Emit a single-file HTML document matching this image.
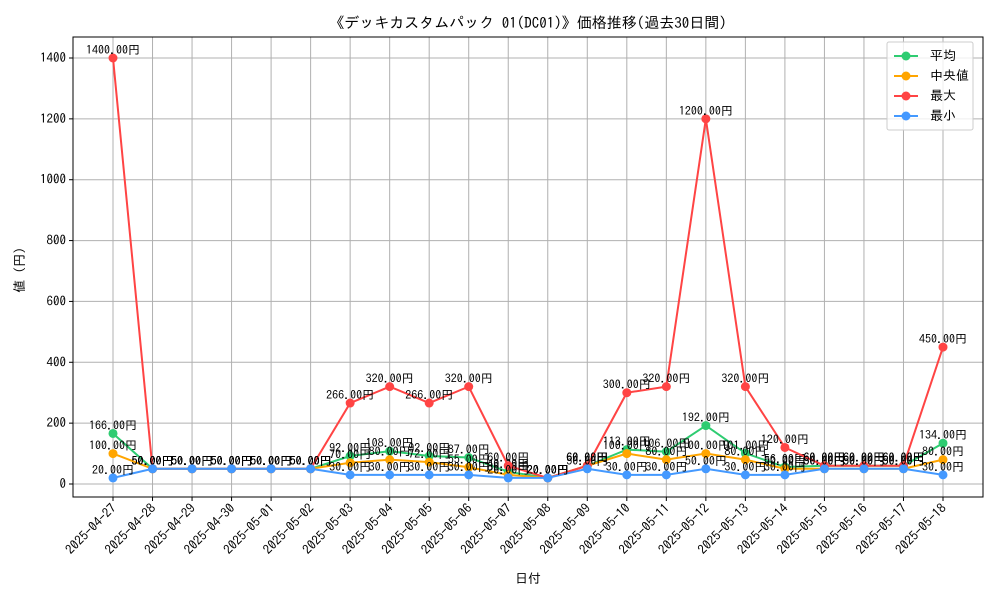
<!DOCTYPE html>
<html><head><meta charset="utf-8"><style>
body{margin:0;background:#fff;font-family:"IPAGothic","Liberation Sans",sans-serif;}
svg text{font-family:"IPAGothic","Liberation Sans",sans-serif;}
</style></head><body>
<svg id="chart" width="1000" height="600" xmlns="http://www.w3.org/2000/svg">
<text x="528" y="28" font-size="15" text-anchor="middle">《デッキカスタムパック 01(DC01)》価格推移(過去30日間)</text>
<g id="grid"></g><g id="axes"></g><g id="series"></g>
<rect x="73" y="37" width="910" height="460" fill="none" stroke="#000" stroke-width="1"/>
<text x="528" y="583" font-size="13" text-anchor="middle">日付</text>
<text x="24" y="270" font-size="13" text-anchor="middle" transform="rotate(-90 24 270)">値 (円)</text>
<g>
<rect x="887" y="42" width="86" height="88" fill="#fff" fill-opacity="0.8" stroke="#ccc" rx="2"/>
<g id="legend-items"></g>
</g>
</svg>
<script>
const dates=["2025-04-27","2025-04-28","2025-04-29","2025-04-30","2025-05-01","2025-05-02","2025-05-03","2025-05-04","2025-05-05","2025-05-06","2025-05-07","2025-05-08","2025-05-09","2025-05-10","2025-05-11","2025-05-12","2025-05-13","2025-05-14","2025-05-15","2025-05-16","2025-05-17","2025-05-18"];
const avgVals=[166,50,50,50,50,50,92,108,92,87,40,20,60,113,106,192,101,56,60,60,60,134];
const medVals=[100,50,50,50,50,50,70,80,72,55,30,20,60,100,80,100,80,50,50,50,50,80];
const maxVals=[1400,50,50,50,50,50,266,320,266,320,60,20,60,300,320,1200,320,120,60,60,60,450];
const minVals=[20,50,50,50,50,50,30,30,30,30,20,20,50,30,30,50,30,30,50,50,50,30];
const yTicks=[0,200,400,600,800,1000,1200,1400];
const seriesNames=["平均","中央値","最大","最小"];
const NS="http://www.w3.org/2000/svg";
const X=i=>113+i*(830/21);
const Y=v=>484-v*(426/1400);
function mk(tag,attrs,parent){const e=document.createElementNS(NS,tag);for(const k in attrs)e.setAttribute(k,attrs[k]);parent.appendChild(e);return e;}
const grid=document.getElementById('grid'),axes=document.getElementById('axes'),ser=document.getElementById('series');
yTicks.forEach(t=>{
 const l=mk('line',{x1:73,x2:983,y1:Y(t),y2:Y(t),stroke:'#b0b0b0','stroke-width':1},grid);
 
 
 mk('line',{x1:69,x2:73,y1:Y(t),y2:Y(t),stroke:'#000'},axes);
 const tx=mk('text',{x:66,y:Y(t)+4,'font-size':13,'text-anchor':'end'},axes);tx.textContent=t;
 
 
});
dates.forEach((d,i)=>{
 const l=mk('line',{x1:X(i),x2:X(i),y1:37,y2:497,stroke:'#b0b0b0','stroke-width':1},grid);
 
 
 mk('line',{x1:X(i),x2:X(i),y1:497,y2:501,stroke:'#000'},axes);
 const tx=mk('text',{x:X(i)+4,y:509,'font-size':13,'text-anchor':'end',transform:`rotate(-45 ${X(i)+4} 509)`},axes);tx.textContent=d;
 
 
});
const all=[[avgVals,'#2ecc71'],[medVals,'#ffa500'],[maxVals,'#ff4444'],[minVals,'#4499ff']];
all.forEach(([vals,c],s)=>{
 const g=mk('g',{},ser);
 
 
 mk('polyline',{points:vals.map((v,i)=>X(i)+','+Y(v)).join(' '),fill:'none',stroke:c,'stroke-width':2},g);
 vals.forEach((v,i)=>{
  const p=mk('circle',{cx:X(i),cy:Y(v),r:4.5,fill:c},g);
  
  
  const t=mk('text',{x:X(i),y:Y(v)-4,'font-size':12,'text-anchor':'middle'},g);t.textContent=v.toFixed(2)+'円';
  
  
 });
});
const li=document.getElementById('legend-items');
all.forEach(([v,c],s)=>{
 const y=56+s*20;
 const g=mk('g',{},li);
 
 
 mk('line',{x1:894,x2:918,y1:y,y2:y,stroke:c,'stroke-width':2},g);
 mk('circle',{cx:906,cy:y,r:4.5,fill:c},g);
 const t=mk('text',{x:930,y:y+4,'font-size':13},g);t.textContent=seriesNames[s];
});
</script>
</body></html>
